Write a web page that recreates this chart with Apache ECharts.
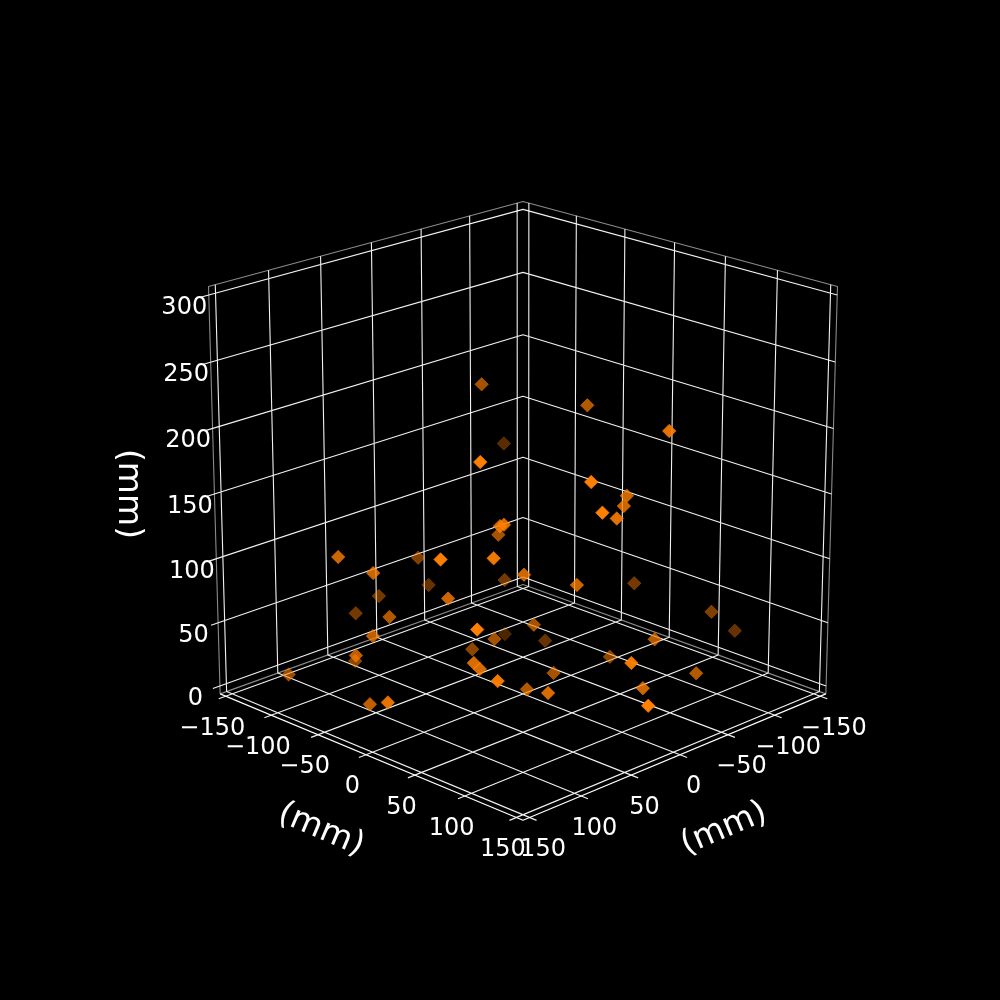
<!DOCTYPE html>
<html><head><meta charset="utf-8"><style>html,body{margin:0;background:#000}#c{width:1000px;height:1000px}</style>
<script src="https://cdn.jsdelivr.net/npm/echarts@6/dist/echarts.min.js"></script></head><body><div id="c"></div>
<script>
// Points in millimetres
const dataX=[-3,-56,72,47,45,15,125,110,34,108,73,35,-15,17,-44,-44,21,-30,-27,21,-3,10,-81,-107,-134,-37,53,77,68,93,113,125,93,138,126,142,102,35,-31,31,84,82,92,13,-34,11,36,52,-38,23,-52,-5,31];
const dataY=[-45,-76,30,24,26,-10,-60,-40,-74,27,44,36,-34,-81,21,101,88,74,74,99,90,64,34,87,86,96,-96,2,-105,-42,-38,-43,-79,-101,-28,8,57,6,-50,-21,35,39,67,24,-11,42,40,77,51,130,123,115,154];
const dataZ=[222,156,200,144,145,120,119,108,90,136,132,107,70,62,212,212,187,160,153,167,154,100,68,53,30,54,59,91,47,69,61,48,24,20,15,32,90,49,18,32,53,49,51,59,23,26,20,33,27,63,31,31,40];
const xTicks=[-150,-100,-50,0,50,100,150];
const yTicks=[-150,-100,-50,0,50,100,150];
const zTicks=[0,50,100,150,200,250,300];
const axisTitle='(mm)';

const EDGE=156.25, ZLO=-6.25, ZHI=306.25, TICK=163;
const SE=Math.sin(20*Math.PI/180), CE=Math.cos(20*Math.PI/180), K=.55/156.25, R=Math.SQRT1_2;
function depth(x,y,z){return CE*R*(x+y)*K+SE*(z-150)*K;}
function proj(x,y,z){
  const r=R*(y-x)*K, t=R*(x+y)*K, c=(z-150)*K, D=10-(CE*t+SE*c), v=-SE*t+CE*c;
  return [523+3967*r/D, 494-3940*v/D];
}
function path(list){const o=[];list.forEach(seg=>{seg.forEach(p=>o.push(proj(p[0],p[1],p[2])));o.push([NaN,NaN]);});return o;}
function lineSeries(data,color,width,z){return {type:'line',data,showSymbol:false,symbol:'none',silent:true,connectNulls:false,z,
  lineStyle:{color,width},itemStyle:{color},animation:false};}

const grid=[];
xTicks.forEach(x=>grid.push([[x,TICK,ZLO],[x,-EDGE,ZLO],[x,-EDGE,ZHI]]));
yTicks.forEach(y=>grid.push([[TICK,y,ZLO],[-EDGE,y,ZLO],[-EDGE,y,ZHI]]));
zTicks.forEach(z=>grid.push([[TICK,-EDGE,z],[-EDGE,-EDGE,z],[-EDGE,EDGE,z]]));
const paneEdges=[
 [[EDGE,-EDGE,ZLO],[EDGE,-EDGE,ZHI],[-EDGE,-EDGE,ZHI],[-EDGE,EDGE,ZHI],[-EDGE,EDGE,ZLO]],
 [[EDGE,-EDGE,ZLO],[-EDGE,-EDGE,ZLO],[-EDGE,EDGE,ZLO]]
];
const axisEdges=[[[EDGE,-EDGE,ZLO],[EDGE,EDGE,ZLO],[-EDGE,EDGE,ZLO]]];

const depths=dataX.map((x,i)=>depth(x,dataY[i],dataZ[i]));
const dMin=Math.min(...depths), dMax=Math.max(...depths);
const order=dataX.map((_,i)=>i).sort((a,b)=>depths[a]-depths[b]);
const ORANGE='#ff7f00';
const points=order.map(i=>{
  const op=.3+.7*(depths[i]-dMin)/(dMax-dMin);
  return {value:proj(dataX[i],dataY[i],dataZ[i]),itemStyle:{opacity:op,color:ORANGE,borderColor:ORANGE,borderWidth:.6}};
});

const fmt=v=>String(v).replace('-','\u2212');
const tickLabels=[];
zTicks.forEach(z=>{const p=proj(EDGE,-EDGE,z);tickLabels.push({name:fmt(z),value:[p[0]-24.5,p[1]+12.5]});});
yTicks.forEach(y=>{const p=proj(EDGE,y,ZLO);tickLabels.push({name:fmt(y),value:[p[0]-13.5,p[1]+32.5]});});
xTicks.forEach(x=>{const p=proj(x,EDGE,ZLO);tickLabels.push({name:fmt(x),value:[p[0]+13.5,p[1]+32.5]});});

function title(pos,rot){return {type:'scatter',symbolSize:0,silent:true,animation:false,z:6,itemStyle:{opacity:1},
  data:[{name:axisTitle,value:pos}],
  label:{show:true,position:'inside',formatter:'{b}',color:'#fff',opacity:1,fontFamily:'DejaVu Sans',fontSize:33,rotate:rot,align:'center',verticalAlign:'middle'}};}

const chart=echarts.init(document.getElementById('c'),null,{renderer:'canvas'});
chart.setOption({
  backgroundColor:'#000',animation:false,
  grid:{left:0,top:0,width:1000,height:1000,show:false},
  xAxis:{type:'value',min:0,max:1000,show:false},
  yAxis:{type:'value',min:0,max:1000,inverse:true,show:false},
  series:[
    lineSeries(path(paneEdges),'#8a8a8a',1.1,1),
    lineSeries(path(grid),'#f2f2f2',1.1,2),
    lineSeries(path(axisEdges),'#ffffff',1.1,3),
    {type:'scatter',symbol:'diamond',symbolSize:13.5,data:points,z:4,animation:false,silent:true},
    {type:'scatter',symbolSize:0,data:tickLabels,silent:true,animation:false,z:5,itemStyle:{opacity:1},
     label:{show:true,position:'inside',formatter:'{b}',color:'#fff',opacity:1,fontFamily:'DejaVu Sans',fontSize:24,align:'center',verticalAlign:'middle'}},
    title([321,830],-23),
    title([724,829],23),
    title([128,494],-90)
  ]
});
</script></body></html>
